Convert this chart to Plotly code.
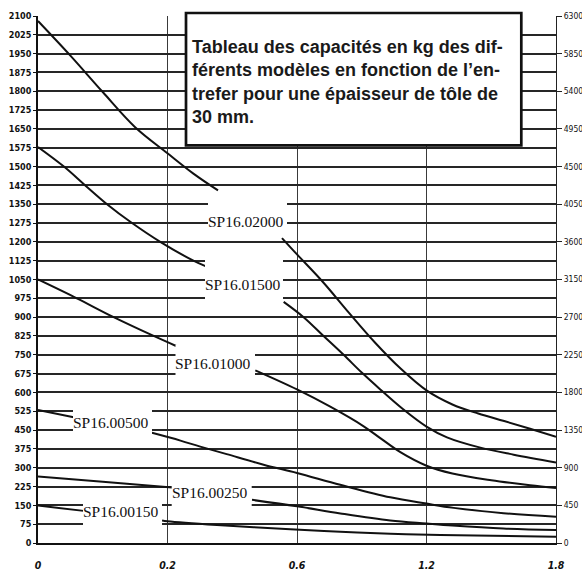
import plotly.graph_objects as go

# ---------------- data ----------------
# x positions are the equally spaced grid columns; their labels are the air-gap values
x_tick_pos = [0, 1, 2, 3, 4]
x_tick_labels = ["0", "0.2", "0.6", "1.2", "1.8"]

left_ticks = list(range(0, 2101, 75))
right_ticks = list(range(0, 6301, 450))

sp02000_x = [0, 0.25, 0.5, 0.75, 1.0, 1.2, 1.39, None,
             1.884, 2.0, 2.2, 2.4, 2.6, 2.8, 3.0, 3.2, 3.4, 3.6, 3.8, 4.0]
sp02000_y = [2080, 1942, 1797, 1657, 1553, 1472, 1405, None,
             1215, 1150, 1040, 918, 800, 695, 608, 552, 516, 486, 455, 423]

sp01500_x = [0, 0.2, 0.365, 0.533, 0.726, 0.944, 1.2, 1.293, None,
             1.897, 2.051, 2.205, 2.36, 2.502, 2.643, 2.82, 3.0, 3.158, 3.416, 3.673, 4.0]
sp01500_y = [1578, 1500, 1425, 1350, 1275, 1200, 1125, 1103, None,
             961, 900, 825, 750, 678, 612, 533, 464, 421, 380, 352, 321]

sp01000_x = [0, 0.3, 0.584, 0.893, 1.066, None,
             1.678, 2.0, 2.257, 2.515, 2.643, 2.798, 3.0, 3.2, 3.5, 3.8, 4.0]
sp01000_y = [1050, 975, 900, 825, 785, None,
             688, 612, 543, 465, 418, 362, 308, 277, 250, 230, 219]

sp00500_x = [0, 0.275, None,
             0.88, 1.1, 1.253, 1.457, 1.742, 2.0, 2.334, 2.72, 3.0, 3.21, 3.595, 4.0]
sp00500_y = [530, 501, None,
             439, 408, 384, 354, 312, 279, 232, 182, 157, 140, 119, 105]

sp00250_x = [0, 0.5, 1.035, None,
             1.652, 2.0, 2.335, 2.72, 3.0, 3.2, 3.593, 4.0]
sp00250_y = [265, 244, 221, None,
             172, 146, 118, 90, 78, 70, 58, 52]

sp00150_x = [0, 0.352, None,
             0.958, 1.0, 1.382, 1.948, 2.334, 2.72, 3.107, 4.0]
sp00150_y = [149, 128, None,
             90, 87, 72, 55, 45, 37, 32, 25]

series = [
    ("SP16.02000", sp02000_x, sp02000_y),
    ("SP16.01500", sp01500_x, sp01500_y),
    ("SP16.01000", sp01000_x, sp01000_y),
    ("SP16.00500", sp00500_x, sp00500_y),
    ("SP16.00250", sp00250_x, sp00250_y),
    ("SP16.00150", sp00150_x, sp00150_y),
]

title_text = ("Tableau des capacités en kg des dif-<br>"
              "férents modèles en fonction de l’en-<br>"
              "trefer pour une épaisseur de tôle de<br>"
              "30 mm.")

# ---------------- layout helpers (pixel -> paper) ----------------
W, H = 582, 573
ML, MR, MT, MB = 38, 26, 16, 30
PW = W - ML - MR
PH = H - MT - MB


def px(x):
    return (x - ML) / PW


def py(y):
    return (H - MB - y) / PH


fig = go.Figure()

for name, xs, ys in series:
    fig.add_trace(go.Scatter(
        x=xs, y=ys, mode="lines", name=name,
        line=dict(color="#111111", width=2, shape="spline", smoothing=1.0),
        connectgaps=False, showlegend=False, hoverinfo="skip"))

# invisible trace so the right-hand axis is drawn
fig.add_trace(go.Scatter(x=[0], y=[0], yaxis="y2", mode="markers",
                         marker=dict(opacity=0), showlegend=False, hoverinfo="skip"))

tick_font = "Liberation Sans Narrow, DejaVu Sans Condensed, Arial Narrow, sans-serif"

fig.update_layout(
    width=W, height=H,
    margin=dict(l=ML, r=MR, t=MT, b=MB, pad=0, autoexpand=False),
    paper_bgcolor="white", plot_bgcolor="white",
    showlegend=False,
    xaxis=dict(
        range=[0, 4], tickmode="array", tickvals=x_tick_pos, ticktext=x_tick_labels,
        showgrid=True, gridcolor="#3a3a3a", gridwidth=1,
        showline=True, linecolor="#111", linewidth=2,
        ticks="", zeroline=False, ticklabelstandoff=11, automargin=False,
        tickfont=dict(family=tick_font, size=10.5, color="#111",
                      weight="bold", style="italic"),
    ),
    yaxis=dict(
        range=[0, 2100], tickmode="array", tickvals=left_ticks,
        showgrid=True, gridcolor="#262626", gridwidth=1.8,
        showline=True, linecolor="#111", linewidth=1.6,
        ticks="outside", ticklen=3, tickcolor="#111", tickwidth=1.4,
        zeroline=False, automargin=False,
        tickfont=dict(family=tick_font, size=9, color="#111", weight="bold"),
    ),
    yaxis2=dict(
        range=[0, 6300], tickmode="array", tickvals=right_ticks,
        overlaying="y", side="right", showgrid=False, zeroline=False,
        showline=True, linecolor="#222", linewidth=1,
        ticks="outside", ticklen=5, tickcolor="#222", tickwidth=1,
        automargin=False,
        tickfont=dict(family=tick_font, size=8.5, color="#111"),
    ),
)

# white backgrounds behind curve labels (gaps in grid and curves)
label_boxes = [
    (208, 194, 287, 236),
    (205, 250, 283, 308),
    (175.5, 345, 255, 384),
    (73, 404, 152, 438),
    (171.7, 478, 251.7, 514),
    (83, 497, 162, 532),
]
shapes = []
for x0, y0, x1, y1 in label_boxes:
    shapes.append(dict(type="rect", xref="paper", yref="paper", layer="above",
                       x0=px(x0), x1=px(x1), y0=py(y1), y1=py(y0),
                       fillcolor="white", line=dict(width=0)))
# caption box
shapes.append(dict(type="rect", xref="paper", yref="paper", layer="above",
                   x0=px(186), x1=px(521.3), y0=py(145.3), y1=py(13),
                   fillcolor="white", line=dict(color="#111", width=2.7)))
fig.update_layout(shapes=shapes)

label_pos = [
    (245.5, 221),
    (243, 284.5),
    (213.3, 363.3),
    (111.2, 422),
    (210, 492.7),
    (120.7, 511),
]
annotations = []
for (name, _, _), (lx, ly) in zip(series, label_pos):
    annotations.append(dict(
        text=name, x=px(lx), y=py(ly), xref="paper", yref="paper",
        xanchor="center", yanchor="middle", showarrow=False,
        font=dict(family="Liberation Serif, Times New Roman, serif", size=15.5, color="#111")))

annotations.append(dict(
    text=title_text, x=px(190), y=py(34.5), xref="paper", yref="paper",
    xanchor="left", yanchor="top", align="left", showarrow=False,
    font=dict(family="Liberation Sans, Arial, sans-serif", size=18, color="#1a1a1a",
              weight="bold")))
fig.update_layout(annotations=annotations)

fig.write_html("out.html", config={"displayModeBar": False},
               post_script="document.body.style.margin='0';")
